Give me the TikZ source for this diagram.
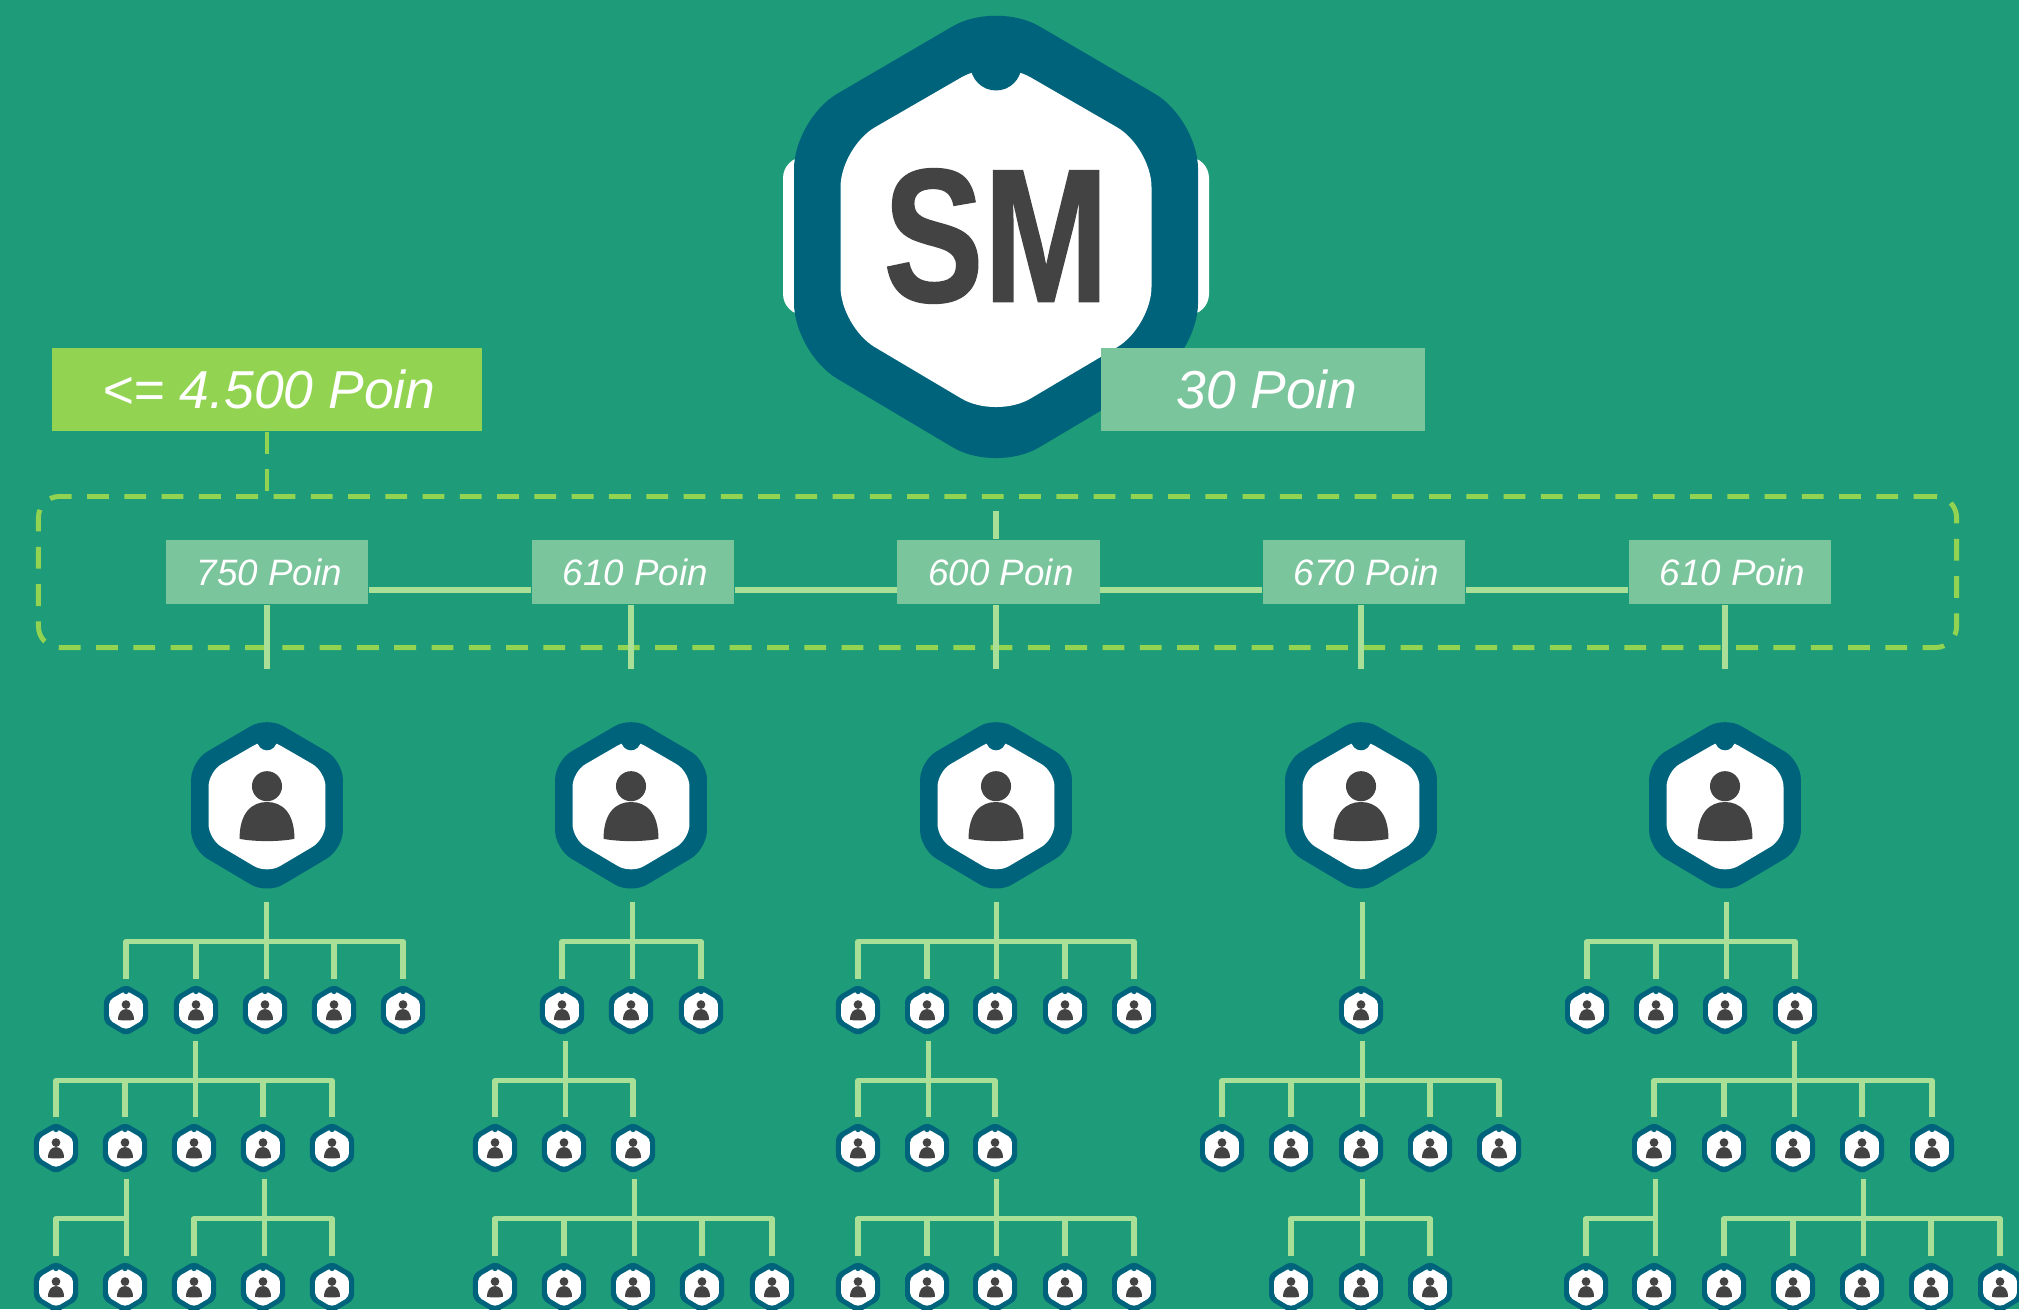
\documentclass[tikz,border=0pt]{standalone}
\usepackage{fontspec}
\setmainfont{Liberation Sans}
\newfontfamily\logofont[UprightFont=* Bold,FakeBold=1]{Liberation Sans}
\definecolor{bgreen}{HTML}{1E9B78}
\definecolor{hexteal}{HTML}{00637C}
\definecolor{ink}{HTML}{434343}
\definecolor{pointfill}{HTML}{7AC59C}
\definecolor{limitfill}{HTML}{92D451}
\definecolor{linkgreen}{HTML}{A9DF97}
\newcommand{\hexshape}[1]{%
	\fill[hexteal,rounded corners=#1*14.2pt] (0,-235)--(202,-117)--(202,117)--(0,237)--(-202,117)--(-202,-117)--cycle;
	\fill[white,rounded corners=#1*11.4pt] (0,-178.6)--(155.5,-88.8)--(155.5,90.8)--(0,183)--(-155.5,90.8)--(-155.5,-88.8)--cycle;
	\fill[hexteal] (0,-171) circle[radius=25.5];
}
\tikzset{
	hexbase/.pic={\hexshape{#1}},
	hexuser/.pic={\hexshape{#1}
		\fill[ink] (0,-50) circle[radius=40];
		\fill[ink] (-73,90) .. controls (-73,20) and (-40,-8) .. (0,-8) .. controls (40,-8) and (73,20) .. (73,90) .. controls (30,98) and (-30,98) .. cycle;},
	slot/.style={minimum width=.44cm,minimum height=.6cm,inner sep=0pt},
	lead/.style={minimum width=1.52cm,minimum height=1.92cm,inner sep=0pt},
	link/.style={linkgreen,line width=1.5pt,line join=round},
	pointbox/.style={fill=pointfill,text=white,inner sep=0pt,minimum width=2.02cm,minimum height=.64cm,font=\fontsize{10.45}{12}\selectfont\itshape},
	bigbox/.style={text=white,inner sep=0pt,minimum height=.83cm,font=\fontsize{15.2}{20}\selectfont\itshape},
	dashline/.style={limitfill,line width=1.4pt,dash pattern=on 6.2pt off 4.4pt}
}
% one row of small members, names are row letter + x
\newcommand{\members}[3]{%
	\foreach \x in {#3} {
		\pic[scale=.109] at (\x,#2) {hexuser=.109};
		\node[slot] (#1\x) at (\x,#2) {};
	}
}
% parent, child under the stem, other children
\newcommand{\branch}[3]{%
	\coordinate (stem) at ([xshift=.15mm]#2.north |- #1.south);
	\draw[link] (stem) -- ([xshift=.15mm]#2.north);
	\foreach \c in {#3} \draw[link] (\c.north) |- ([yshift=-4mm]stem);
}
\begin{document}
\begin{tikzpicture}[x=.01cm,y=-.01cm,line cap=butt]
	\useasboundingbox (0,0) rectangle (2019,1309);
	\fill[bgreen] (0,0) rectangle (2019,1309);
	% logo
	\fill[white,rounded corners=6pt] (783,157) rectangle (1209,315);
	\pic at (996,236) {hexbase=1};
	\node[text=ink,inner sep=0pt,font=\fontsize{54}{60}\logofont] (root) at (996,236) {\scalebox{.79}[1]{SM}};
	\node[bigbox,fill=limitfill,minimum width=4.3cm] (limit) at (267,389.5) {\kern.4mm<= 4.500 Poin};
	\node[bigbox,fill=pointfill,minimum width=3.24cm] (bonus) at (1263,389.5) {\kern.8mm 30 Poin};
	% level one
	\node[draw=limitfill,line width=1.4pt,dash pattern=on 6.2pt off 4.4pt,rounded corners=6pt,minimum width=19.17cm,minimum height=1.51cm,inner sep=0pt] (zone) at (997.5,572) {};
	\draw[dashline] (limit.south) -- (limit.south |- zone.north);
	\foreach \i/\x/\t in {1/267/750,2/633/610,3/998.5/600,4/1364/670,5/1730/610}
		\node[pointbox] (p\i) at (\x,572) {\kern.5mm\t{} Poin};
	\foreach \i/\x in {1/267,2/631,3/996,4/1361,5/1725} {
		\pic[scale=.376] at (\x,805) {hexuser=.376};
		\node[lead] (lead\i) at (\x,805) {};
	}
	\foreach \i/\j in {1/2,2/3,3/4,4/5}
		\draw[link] ([yshift=-1.8mm]p\i.east) -- ([yshift=-1.8mm]p\j.west);
	\foreach \i in {1,...,5}
		\draw[link] (lead\i.center |- p\i.south) -- ([yshift=3.9mm]lead\i.north);
	\coordinate (crown) at (996,511);
	\draw[link] (crown) -- (crown |- p3.north);
	% rows
	\members{a}{1010}{126,196,265,334,403,562,631,701,858,927,995,1065,1134,1361,1587,1656,1725,1795}
	\members{b}{1148}{56,125,194,263,332,495,564,633,858,927,995,1222,1291,1361,1430,1499,1654,1724,1793,1862,1932}
	\members{c}{1287}{56,125,194,263,332,495,564,633,702,772,858,927,995,1065,1134,1291,1361,1430,1586,1654,1724,1793,1862,1931,2000}
	% first tree
	\branch{lead1}{a265}{a126,a196,a334,a403}
	\branch{a196}{b194}{b56,b125,b263,b332}
	\branch{b125}{c125}{c56}
	\branch{b263}{c263}{c194,c332}
	% second tree
	\branch{lead2}{a631}{a562,a701}
	\branch{a562}{b564}{b495,b633}
	\branch{b633}{c633}{c495,c564,c702,c772}
	% third tree
	\branch{lead3}{a995}{a858,a927,a1065,a1134}
	\branch{a927}{b927}{b858,b995}
	\branch{b995}{c995}{c858,c927,c1065,c1134}
	% fourth tree
	\draw[link] ([xshift=.15mm]a1361.north |- lead4.south) -- ([xshift=.15mm]a1361.north);
	\branch{a1361}{b1361}{b1222,b1291,b1430,b1499}
	\branch{b1361}{c1361}{c1291,c1430}
	% fifth tree
	\branch{lead5}{a1725}{a1587,a1656,a1795}
	\branch{a1795}{b1793}{b1654,b1724,b1862,b1932}
	\branch{b1654}{c1654}{c1586}
	\branch{b1862}{c1862}{c1724,c1793,c1931,c2000}
\end{tikzpicture}
\end{document}
